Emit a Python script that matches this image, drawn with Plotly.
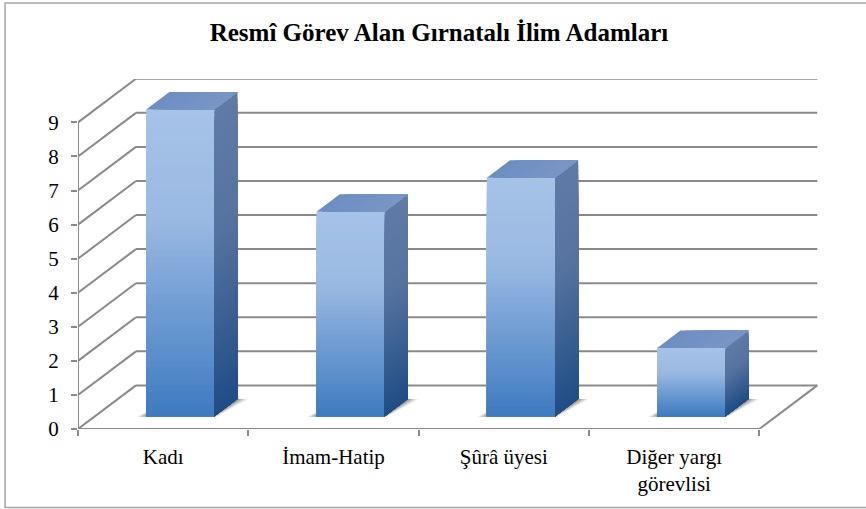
import plotly.graph_objects as go

categories = ["Kadı", "İmam-Hatip", "Şûrâ üyesi", "Diğer yargı<br>görevlisi"]
values = [9, 6, 7, 2]
y_ticks = list(range(10))
title = "Resmî Görev Alan Gırnatalı İlim Adamları"

W, H = 866, 509
L, R, T, B = 77.5, 819.0, 79.3, 429.3
CW = 170.45   # px per category
UH = 34.07    # px per value unit
DX = 58.0 / CW   # full depth of the box in x units
DY = 43.6 / UH   # full depth of the box in y units
D0, D1 = 0.295, 0.695  # bar depth span
BW = 0.40
N = 50
GRID = "#8a8a8a"
FONT = "Liberation Serif"


def lerp(stops, t):
    for (a, ca), (b, cb) in zip(stops, stops[1:]):
        if t <= b:
            u = (t - a) / (b - a)
            return "rgb(%d,%d,%d)" % tuple(round(p + (q - p) * u) for p, q in zip(ca, cb))
    return "rgb(%d,%d,%d)" % stops[-1][1]


front_stops = [(0, (166, 194, 231)), (0.35, (154, 185, 226)), (1, (61, 121, 191))]
side_stops = [(0, (96, 122, 166)), (0.4, (86, 115, 160)), (1, (30, 76, 132))]
top_stops = [(0, (110, 142, 194)), (1, (122, 150, 198))]

fig = go.Figure()
shapes = []


def seg(x0, y0, x1, y1, w=2):
    shapes.append(dict(type="line", xref="x", yref="y", x0=x0, y0=y0, x1=x1, y1=y1,
                       layer="below", line=dict(color=GRID, width=w)))


xmax = len(categories)
for v in y_ticks:
    seg(0, v, DX, v + DY)
    seg(DX, v + DY, xmax + DX, v + DY)
seg(0, 0, 0, max(y_ticks))
seg(0, 0, xmax, 0)
seg(xmax, 0, xmax + DX, DY)

for i, (cat, val) in enumerate(zip(categories, values)):
    left = i + 0.5 - BW / 2
    right = left + BW
    # soft floor shadow: the bar's footprint, spread by px offsets
    fl = (left + D0 * DX, D0 * DY)
    fr = (right + D0 * DX, D0 * DY)
    br = (right + D1 * DX, D1 * DY)
    bl = (left + D1 * DX, D1 * DY)
    for g, alpha in [(1.0, 0.07), (0.8, 0.10), (0.6, 0.13), (0.4, 0.16), (0.2, 0.20)]:
        pts = [(fl[0] - 10 * g / CW, fl[1] - 1.2 * g / UH),
               (fr[0] + 1 * g / CW, fr[1] - 1.2 * g / UH),
               (br[0] + 11 * g / CW, br[1] - 0.5 * g / UH),
               (bl[0], bl[1])]
        path = "M" + " L".join(f"{a:.4f},{b:.4f}" for a, b in pts) + " Z"
        shapes.append(dict(type="path", path=path, xref="x", yref="y", layer="below",
                           fillcolor=f"rgba(50,50,50,{alpha})", line=dict(width=0)))

    # front face: painter-ordered gradient bars, top colour first
    ts = [k / N for k in range(N)]
    fig.add_trace(go.Bar(
        x=[i + 0.5 + D0 * DX] * N,
        y=[val * (1 - t) for t in ts],
        base=D0 * DY,
        width=BW,
        marker=dict(color=[lerp(front_stops, t) for t in ts], line=dict(width=0)),
        hoverinfo="skip", showlegend=False, name=cat.replace("<br>", " ")))

    # side face gradient
    for t in ts:
        h = val * (1 - t)
        fig.add_trace(go.Scatter(
            x=[right + D0 * DX, right + D1 * DX, right + D1 * DX, right + D0 * DX, right + D0 * DX],
            y=[D0 * DY, D1 * DY, D1 * DY + h, D0 * DY + h, D0 * DY],
            mode="lines", fill="toself", fillcolor=lerp(side_stops, t),
            line=dict(width=0), hoverinfo="skip", showlegend=False))

    # top face, gradient running left to right
    M = 12
    for k in range(M):
        t = k / M
        a = left + (BW) * t
        fig.add_trace(go.Scatter(
            x=[a + D0 * DX, right + D0 * DX, right + D1 * DX, a + D1 * DX, a + D0 * DX],
            y=[D0 * DY + val, D0 * DY + val, D1 * DY + val, D1 * DY + val, D0 * DY + val],
            mode="lines", fill="toself", fillcolor=lerp(top_stops, t),
            line=dict(width=0), hoverinfo="skip", showlegend=False))

# outer frame
shapes.append(dict(type="rect", xref="paper", yref="paper",
                   x0=(4.5 - L) / (R - L), x1=(W + 6 - L) / (R - L),
                   y0=(B - 507.8) / (B - T), y1=(B - 3.3) / (B - T),
                   layer="below", line=dict(color="#a6a6a6", width=1.5)))

fig.update_layout(
    width=W, height=H,
    autosize=False,
    margin=dict(l=L, r=W - R, t=T, b=H - B, pad=0),
    paper_bgcolor="white", plot_bgcolor="white",
    barmode="overlay",
    showlegend=False,
    shapes=shapes,
    title=dict(text=f"<b>{title}</b>", x=439 / W, xanchor="center", y=1 - 32 / H, yanchor="middle",
               font=dict(family=FONT, size=25, color="#000000")),
    xaxis=dict(range=[0, (R - L) / CW], showgrid=False, zeroline=False, showline=False,
               tickmode="array", tickvals=[i + 0.5 for i in range(len(categories))], ticktext=categories,
               ticks="", ticklabelstandoff=13,
               minor=dict(tickmode="array", tickvals=list(range(len(categories) + 1)), ticks="outside", ticklen=6,
                          tickwidth=1.8, tickcolor=GRID, showgrid=False),
               tickfont=dict(family=FONT, size=21, color="#000000"), automargin=False),
    yaxis=dict(range=[0, (B - T) / UH], showgrid=False, zeroline=False, showline=False,
               tickmode="array", tickvals=y_ticks, ticktext=[str(v) for v in y_ticks],
               ticks="outside", ticklen=6, tickwidth=1.8, tickcolor=GRID, ticklabelstandoff=8,
               tickfont=dict(family=FONT, size=21, color="#000000"), automargin=False),
)

fig.write_html("out.html", config={"displayModeBar": False},
               post_script="document.body.style.margin='0';document.documentElement.style.overflow='hidden';")
